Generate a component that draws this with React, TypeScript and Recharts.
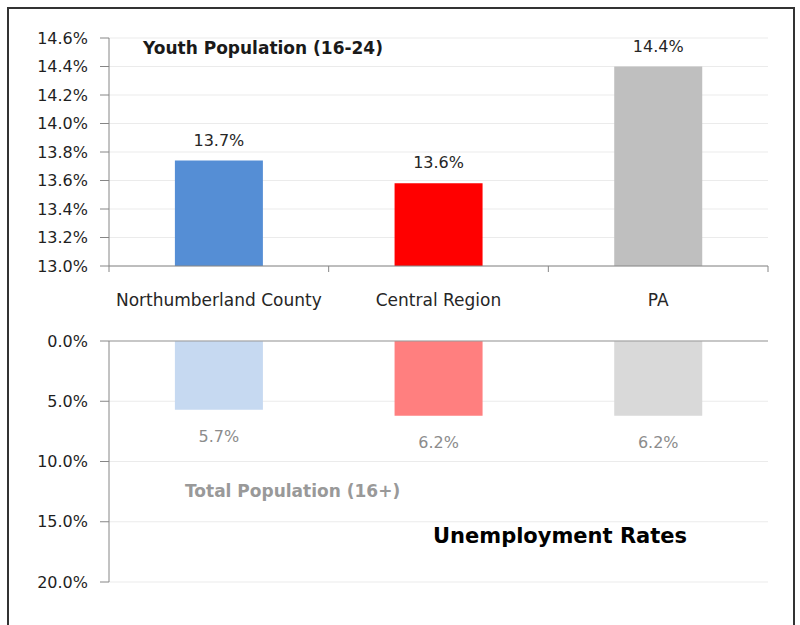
import React from 'react';
import { BarChart, Bar, XAxis, YAxis, CartesianGrid, Cell, LabelList } from 'recharts';

const regions = ['Northumberland County', 'Central Region', 'PA'];
const youthRates = [13.74, 13.58, 14.4];
const totalRates = [5.7, 6.2, 6.2];
const youthTicks = [13.0, 13.2, 13.4, 13.6, 13.8, 14.0, 14.2, 14.4, 14.6];
const totalTicks = [0, 5, 10, 15, 20];

const youthColors = ['#558ed5', '#ff0000', '#bfbfbf'];
const totalColors = ['#c6d9f1', '#ff7f7f', '#d9d9d9'];

const youthData = regions.map((name, i) => ({ name, value: youthRates[i] }));
const totalData = regions.map((name, i) => ({ name, value: totalRates[i] }));

const FONT = '"DejaVu Sans", sans-serif';
const AXIS = '#868686';
const GRID = '#ebebeb';
const pct = (v: number) => `${Number(v).toFixed(1)}%`;

// category label centred in band, small tick marks on the band edges (Excel style)
const CategoryTick = (props: any) => {
    const { x, y, payload, index } = props;
    const half = payload?.offset || 110;
    const last = index === regions.length - 1;
    return (
        <g>
            <line x1={x - half} x2={x - half} y1={y} y2={y + 6} stroke={AXIS} />
            {last && <line x1={x + half} x2={x + half} y1={y} y2={y + 6} stroke={AXIS} />}
            <text x={x} y={y + 40} textAnchor="middle" fontSize={17} fill="#262626" fontFamily={FONT}>
                {payload.value}
            </text>
        </g>
    );
};

const TopLabel = (props: any) => {
    const { x, y, width, height, value } = props;
    const top = Math.min(Number(y), Number(y) + Number(height));
    return (
        <text x={Number(x) + Number(width) / 2} y={top - 15} textAnchor="middle" fontSize={16} fill="#262626" fontFamily={FONT}>
            {pct(value)}
        </text>
    );
};

const BottomLabel = (props: any) => {
    const { x, y, width, height, value } = props;
    const bottom = Math.max(Number(y), Number(y) + Number(height));
    return (
        <text x={Number(x) + Number(width) / 2} y={bottom + 32} textAnchor="middle" fontSize={16} fill="#8c8c8c" fontFamily={FONT}>
            {pct(value)}
        </text>
    );
};

export default function App() {
    const yTick = { fill: '#1f1f1f', fontSize: 16, fontFamily: FONT };
    return (
        <div style={{ position: 'absolute', left: 0, top: 0, width: 800, height: 625, overflow: 'hidden', background: '#fff' }}>
            <div style={{ position: 'absolute', left: 7, top: 7, width: 784, height: 700, border: '2px solid #333' }} />

            <div style={{ position: 'absolute', left: 0, top: 0 }}>
                <BarChart width={800} height={320} data={youthData} margin={{ top: 38, right: 32, bottom: 0, left: 0 }} barCategoryGap="30%">
                    <CartesianGrid vertical={false} stroke={GRID} />
                    <XAxis dataKey="name" height={54} tickSize={0} tickMargin={0} tickLine={false}
                        axisLine={{ stroke: AXIS }} tick={<CategoryTick />} interval={0} />
                    <YAxis width={109} domain={[13, 14.6]} ticks={youthTicks} interval={0} allowDataOverflow
                        tickFormatter={pct} tickSize={9} tickMargin={12} tick={yTick}
                        axisLine={{ stroke: AXIS }} tickLine={{ stroke: AXIS }} />
                    <Bar dataKey="value" isAnimationActive={false}>
                        {youthData.map((d, i) => <Cell key={d.name} fill={youthColors[i]} />)}
                        <LabelList dataKey="value" content={<TopLabel />} />
                    </Bar>
                </BarChart>
            </div>

            <div style={{ position: 'absolute', left: 0, top: 300 }}>
                <BarChart width={800} height={325} data={totalData} margin={{ top: 40, right: 32, bottom: 43, left: 0 }} barCategoryGap="30%">
                    <CartesianGrid vertical={false} stroke={GRID} />
                    <XAxis dataKey="name" orientation="top" height={1} tick={false} tickLine={false}
                        axisLine={{ stroke: '#999' }} />
                    <YAxis width={109} reversed domain={[0, 20]} ticks={totalTicks} interval={0}
                        tickFormatter={pct} tickSize={9} tickMargin={12} tick={yTick}
                        axisLine={{ stroke: AXIS }} tickLine={{ stroke: AXIS }} />
                    <Bar dataKey="value" isAnimationActive={false}>
                        {totalData.map((d, i) => <Cell key={d.name} fill={totalColors[i]} />)}
                        <LabelList dataKey="value" content={<BottomLabel />} />
                    </Bar>
                </BarChart>
            </div>

            <svg width={800} height={625} style={{ position: 'absolute', left: 0, top: 0, pointerEvents: 'none' }}>
                <text x={143} y={54} fontSize={17} fontWeight="bold" fill="#1a1a1a" fontFamily={FONT}>Youth Population (16-24)</text>
                <text x={185} y={497} fontSize={17} fontWeight="bold" fill="#999" fontFamily={FONT}>Total Population (16+)</text>
                <text x={433} y={543} fontSize={21} fontWeight="bold" fill="#000" fontFamily={FONT}>Unemployment Rates</text>
            </svg>
        </div>
    );
}
